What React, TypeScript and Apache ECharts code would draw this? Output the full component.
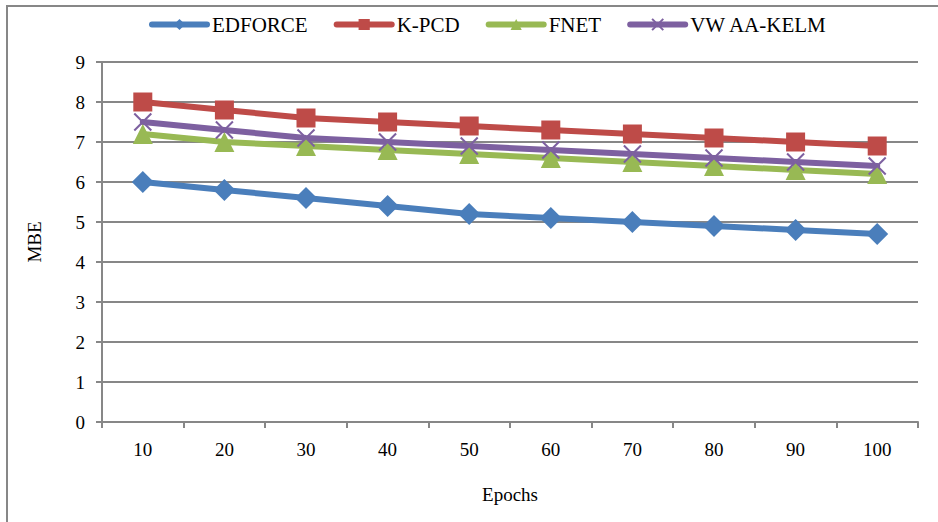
import React, { useEffect, useRef } from "react";
import * as echarts from "echarts";

const epochs = ["10", "20", "30", "40", "50", "60", "70", "80", "90", "100"];
const edforce = [6.0, 5.8, 5.6, 5.4, 5.2, 5.1, 5.0, 4.9, 4.8, 4.7];
const kpcd = [8.0, 7.8, 7.6, 7.5, 7.4, 7.3, 7.2, 7.1, 7.0, 6.9];
const fnet = [7.2, 7.0, 6.9, 6.8, 6.7, 6.6, 6.5, 6.4, 6.3, 6.2];
const vwKelm = [7.5, 7.3, 7.1, 7.0, 6.9, 6.8, 6.7, 6.6, 6.5, 6.4];

const FONT = "Liberation Serif";
const GRAY = "#878787";
const CROSS = "path://M0,0L10,10M10,0L0,10";

export default function App() {
  const ref = useRef<HTMLDivElement>(null);

  useEffect(() => {
    document.body.style.margin = "0";
    const chart = echarts.init(ref.current!, null, { renderer: "svg" });

    const line = (name: string, data: number[], color: string, symbol: string, size: number, extra: any = {}) => ({
      name,
      type: "line",
      data,
      symbol,
      symbolSize: size,
      lineStyle: { color, width: 6, cap: "round" },
      itemStyle: { color, ...extra },
      emphasis: { disabled: true },
    });

    chart.setOption({
      animation: false,
      backgroundColor: "#ffffff",
      textStyle: { fontFamily: FONT },
      graphic: [
        {
          type: "rect",
          shape: { x: 7, y: 6, width: 960, height: 560 },
          style: { fill: "none", stroke: GRAY, lineWidth: 2 },
          silent: true,
        },
      ],
      legend: {
        top: 9,
        left: 144,
        itemWidth: 55,
        itemHeight: 14,
        itemGap: 26,
        lineStyle: { width: 6, cap: "round" },
        textStyle: { fontFamily: FONT, fontSize: 21, color: "#000" },
        data: ["EDFORCE", "K-PCD", "FNET", "VW AA-KELM"],
      },
      grid: { left: 102, right: 20, top: 62, bottom: 100 },
      xAxis: {
        type: "category",
        data: epochs,
        boundaryGap: true,
        name: "Epochs",
        nameLocation: "middle",
        nameGap: 63,
        nameTextStyle: { fontFamily: FONT, fontSize: 19, color: "#000" },
        axisLine: { lineStyle: { color: GRAY, width: 2 } },
        axisTick: { show: true, length: 6, lineStyle: { color: GRAY, width: 2 } },
        axisLabel: { fontFamily: FONT, fontSize: 19, color: "#000", margin: 18 },
      },
      yAxis: {
        type: "value",
        min: 0,
        max: 9,
        interval: 1,
        name: "MBE",
        nameLocation: "middle",
        nameGap: 58,
        nameRotate: 90,
        nameTextStyle: { fontFamily: FONT, fontSize: 19, color: "#000" },
        axisLine: { show: true, lineStyle: { color: GRAY, width: 2 } },
        axisTick: { show: true, length: 6, lineStyle: { color: GRAY, width: 2 } },
        axisLabel: { fontFamily: FONT, fontSize: 19, color: "#000", margin: 17 },
        splitLine: { show: true, lineStyle: { color: GRAY, width: 2 } },
      },
      series: [
        line("EDFORCE", edforce, "#4a7ebb", "diamond", 22),
        line("K-PCD", kpcd, "#be4b48", "rect", 19),
        line("FNET", fnet, "#98b954", "triangle", 20),
        line("VW AA-KELM", vwKelm, "#7d60a0", CROSS, 17, { borderColor: "#7d60a0", borderWidth: 2 }),
      ],
    });

    return () => chart.dispose();
  }, []);

  return <div ref={ref} style={{ width: 938, height: 522 }} />;
}
